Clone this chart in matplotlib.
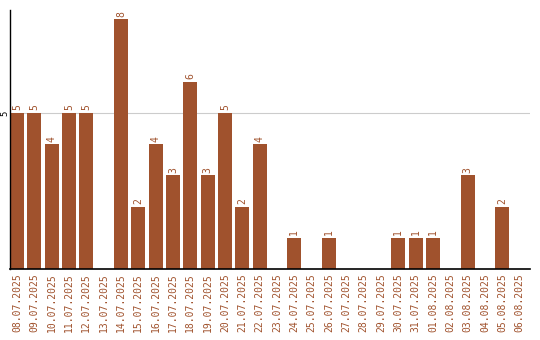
import matplotlib
matplotlib.use("Agg")
import matplotlib.pyplot as plt

dates = ["08.07.2025", "09.07.2025", "10.07.2025", "11.07.2025", "12.07.2025",
         "13.07.2025", "14.07.2025", "15.07.2025", "16.07.2025", "17.07.2025",
         "18.07.2025", "19.07.2025", "20.07.2025", "21.07.2025", "22.07.2025",
         "23.07.2025", "24.07.2025", "25.07.2025", "26.07.2025", "27.07.2025",
         "28.07.2025", "29.07.2025", "30.07.2025", "31.07.2025", "01.08.2025",
         "02.08.2025", "03.08.2025", "04.08.2025", "05.08.2025", "06.08.2025"]
counts = [5, 5, 4, 5, 5, 0, 8, 2, 4, 3, 6, 3, 5, 2, 4,
          0, 1, 0, 1, 0, 0, 0, 1, 1, 1, 0, 3, 0, 2, 0]

col = "#A0522D"
font = "DejaVu Sans Mono"

fig = plt.figure(figsize=(5.4, 3.4), dpi=100)
ax = fig.add_axes([10 / 540, 71 / 340, 520 / 540, 259 / 340])

x = list(range(len(dates)))
ax.bar(x, counts, width=0.8, color=col, zorder=2)
for xi, v in zip(x, counts):
    if v > 0:
        ax.text(xi, v + 0.08, str(v), rotation=90, ha="center", va="bottom",
                color=col, fontsize=7, family=font)

ax.set_xlim(-0.4, len(dates) - 0.4)
ax.set_ylim(0, 8.3)
ax.set_yticks([5])
ax.set_yticklabels(["5"], rotation=90, va="center", fontsize=6.5, family=font)
ax.yaxis.grid(True, color="#cccccc", linewidth=0.8, zorder=0)
ax.set_xticks(x)
ax.set_xticklabels(dates, rotation=90, fontsize=7, family=font, color=col)
ax.tick_params(length=0, pad=3)
ax.tick_params(axis="y", pad=0.5)
for s in ["top", "right"]:
    ax.spines[s].set_visible(False)
ax.spines["left"].set_linewidth(1)
ax.spines["bottom"].set_linewidth(1.2)

fig.savefig("out.png", dpi=100)
